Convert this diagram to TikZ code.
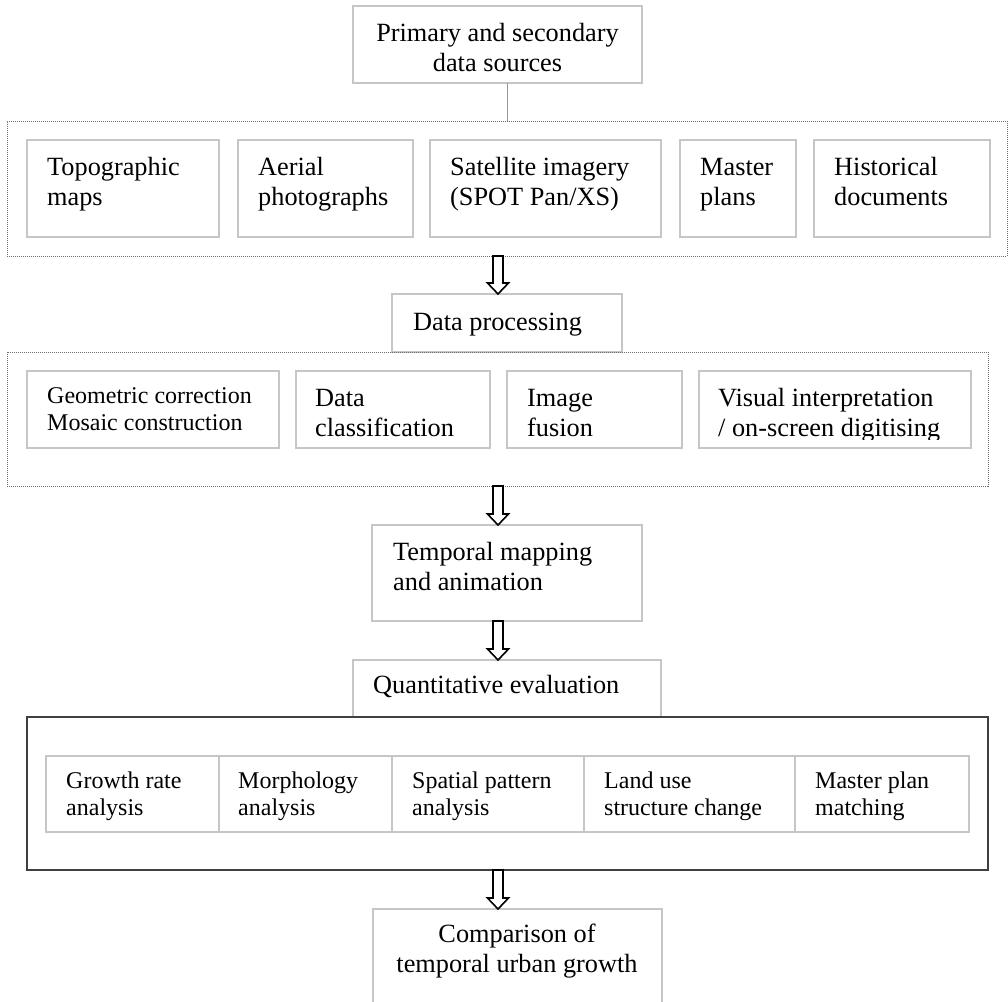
\documentclass[tikz,border=0pt]{standalone}
\usepackage{fontspec}
\setmainfont{Liberation Serif}
\usetikzlibrary{calc}

\definecolor{boxgray}{RGB}{198,198,198}
\definecolor{dotgray}{RGB}{110,110,110}
\definecolor{framegray}{RGB}{64,64,64}
\definecolor{linkgray}{RGB}{150,150,150}

% two-line texts whose reference point is the first baseline
\newcommand\leftlines[2]{\vtop{\hbox{#1}\hbox{#2}}}
\newcommand\centerlines[2]{\vtop{\halign{\hfil##\hfil\cr#1\cr#2\cr}}}

% empty rectangle node given by its top-left and bottom-right corners
\newcommand\panel[6][stepbox]{%
  \node[#1, minimum width={#5-#3}, minimum height={#6-#4}, anchor=north west] (#2) at (#3,#4) {};}

% hollow block arrow from #1 (shaft top) to #2 (tip)
\newcommand\hollowarrow[2]{%
  \draw[hollow] ($(#1)+(-5,0)$) -- ($(#2)+(-5,-11)$) -- ($(#2)+(-10.5,-11)$) -- (#2)
    -- ($(#2)+(10.5,-11)$) -- ($(#2)+(5,-11)$) -- ($(#1)+(5,0)$) -- cycle;}

\tikzset{
  stepbox/.style={draw=boxgray, line width=1.2pt, inner sep=0pt, outer sep=0pt},
  groupbox/.style={draw=dotgray, line width=0.9pt, dash pattern=on 1pt off 1pt, inner sep=0pt, outer sep=0pt},
  framebox/.style={draw=framegray, line width=1.5pt, inner sep=0pt, outer sep=0pt},
  txt/.style={inner sep=0pt, anchor=base west, font=\fontsize{26.3}{30}\selectfont},
  txtsmall/.style={txt, font=\fontsize{24}{27}\selectfont},
  hollow/.style={draw=black, line width=1.6pt, fill=white, line join=miter},
  link/.style={draw=linkgray, line width=0.9pt}
}

\begin{document}
\begin{tikzpicture}[x=1pt, y=-1pt]
\useasboundingbox[fill=white] (0,0) rectangle (1008,1001);

% source data
\panel{src}{353}{6}{642}{83}
\node[txt, anchor=base] (src-t) at (497.5,41.5) {\centerlines{Primary and secondary}{data sources}};

\panel[groupbox]{inputs}{7}{121}{1007}{256}
\panel{topo}{27}{140}{219}{237}
\panel{aerial}{238}{140}{413}{237}
\panel{sat}{430}{140}{661}{237}
\panel{plans}{680}{140}{796}{237}
\panel{hist}{814}{140}{990}{237}
\node[txt] (topo-t) at (47,175) {\leftlines{Topographic}{maps}};
\node[txt] (aerial-t) at (258,175) {\leftlines{Aerial}{photographs}};
\node[txt] (sat-t) at (450,175) {\leftlines{Satellite imagery}{(SPOT Pan/XS)}};
\node[txt] (plans-t) at (700,175) {\leftlines{Master}{plans}};
\node[txt] (hist-t) at (834,175) {\leftlines{Historical}{documents}};

\coordinate (lx) at (507,0);
\draw[link] (src.south -| lx) -- (inputs.north -| lx);

% processing
\panel{proc}{392}{294}{622}{352}
\node[txt] (proc-t) at (413,330) {Data processing};
\panel[groupbox]{procs}{7}{352}{988}{486}
\panel{geo}{27}{371}{279}{448}
\panel{cls}{296}{371}{490}{448}
\panel{fus}{507}{371}{682}{448}
\panel{vis}{699}{371}{971}{448}
\node[txtsmall] (geo-t) at (47,403) {\leftlines{Geometric correction}{Mosaic construction}};
\node[txt] (cls-t) at (315,406) {\leftlines{Data}{classification}};
\node[txt] (fus-t) at (527,406) {\leftlines{Image}{fusion}};
\begin{scope}
  \clip (699,371) rectangle (971,439);
  \node[txt] (vis-t) at (718,406) {\leftlines{Visual interpretation}{/ on-screen digitising}};
\end{scope}

% mapping
\panel{map}{372}{525}{642}{621}
\node[txt] (map-t) at (393,560) {\leftlines{Temporal mapping}{and animation}};

% evaluation
\panel{quant}{353}{660}{661}{717}
\node[txt] (quant-t) at (373,693) {Quantitative evaluation};
\panel[framebox]{evals}{27}{717}{988}{870}
\panel{rate}{46}{756}{219}{832}
\panel{morph}{219}{756}{392}{832}
\panel{spat}{392}{756}{584}{832}
\panel{land}{584}{756}{795}{832}
\panel{match}{795}{756}{969}{832}
\node[txtsmall] (rate-t) at (66,788) {\leftlines{Growth rate}{analysis}};
\node[txtsmall] (morph-t) at (238,788) {\leftlines{Morphology}{analysis}};
\node[txtsmall] (spat-t) at (412,788) {\leftlines{Spatial pattern}{analysis}};
\node[txtsmall] (land-t) at (604,788) {\leftlines{Land use}{structure change}};
\node[txtsmall] (match-t) at (815,788) {\leftlines{Master plan}{matching}};

% comparison
\panel{comp}{373}{909}{662}{1012}
\node[txt, anchor=base] (comp-t) at (517,942) {\centerlines{Comparison of}{temporal urban growth}};

% flow arrows
\coordinate (ax) at (498,0);
\coordinate (a1s) at (inputs.south -| ax);
\coordinate (a1e) at (proc.north -| ax);
\coordinate (a2s) at (procs.south -| ax);
\coordinate (a2e) at (map.north -| ax);
\coordinate (a3s) at (map.south -| ax);
\coordinate (a3e) at (quant.north -| ax);
\coordinate (a4s) at (evals.south -| ax);
\coordinate (a4e) at (comp.north -| ax);
\hollowarrow{a1s}{a1e}
\hollowarrow{a2s}{a2e}
\hollowarrow{a3s}{a3e}
\hollowarrow{a4s}{a4e}
\end{tikzpicture}
\end{document}
